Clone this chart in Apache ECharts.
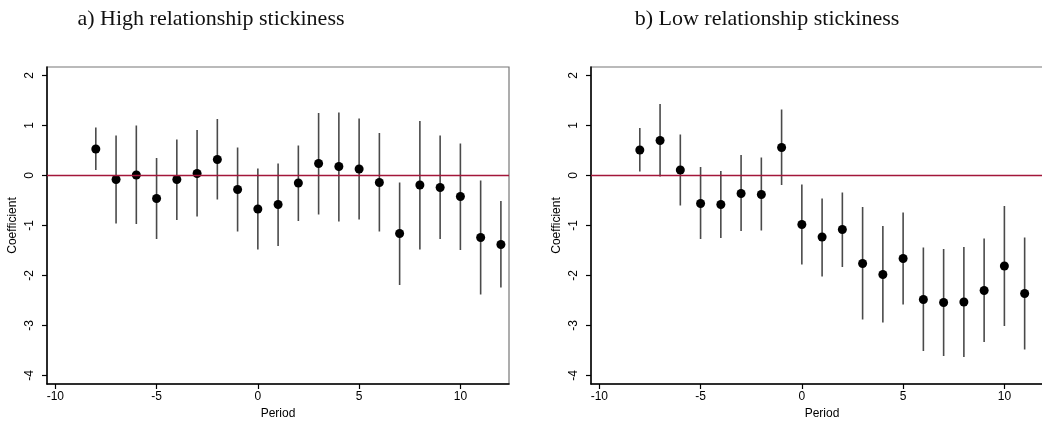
<!DOCTYPE html>
<html>
<head>
    <meta charset="utf-8">
    <title>Event study coefficients</title>
    <script src="https://cdn.jsdelivr.net/npm/echarts@6/dist/echarts.min.js"></script>
    <style>
        html, body { margin: 0; padding: 0; background: #fff; }
        #main { width: 1042px; height: 422px; }
    </style>
</head>
<body>
<div id="main"></div>
<script>
// a) High relationship stickiness
var periodsA = [-8, -7, -6, -5, -4, -3, -2, -1, 0, 1, 2, 3, 4, 5, 6, 7, 8, 9, 10, 11, 12];
var coefA  = [0.53, -0.08, 0.01, -0.46, -0.08, 0.04, 0.32, -0.28, -0.67, -0.58, -0.15, 0.24, 0.18, 0.13, -0.14, -1.16, -0.19, -0.24, -0.42, -1.24, -1.38];
var upperA = [0.96, 0.80, 1.00, 0.35, 0.72, 0.91, 1.13, 0.56, 0.14, 0.24, 0.60, 1.25, 1.26, 1.14, 0.85, -0.14, 1.09, 0.80, 0.64, -0.10, -0.51];
var lowerA = [0.11, -0.96, -0.97, -1.27, -0.89, -0.82, -0.48, -1.12, -1.48, -1.41, -0.91, -0.78, -0.92, -0.88, -1.12, -2.19, -1.48, -1.27, -1.49, -2.38, -2.24];

// b) Low relationship stickiness
var periodsB = [-8, -7, -6, -5, -4, -3, -2, -1, 0, 1, 2, 3, 4, 5, 6, 7, 8, 9, 10, 11];
var coefB  = [0.51, 0.70, 0.11, -0.56, -0.58, -0.36, -0.38, 0.56, -0.98, -1.23, -1.08, -1.76, -1.98, -1.66, -2.48, -2.54, -2.53, -2.30, -1.81, -2.36];
var upperB = [0.95, 1.43, 0.82, 0.17, 0.09, 0.41, 0.36, 1.32, -0.18, -0.46, -0.34, -0.63, -1.01, -0.74, -1.44, -1.47, -1.43, -1.26, -0.61, -1.24];
var lowerB = [0.08, -0.02, -0.60, -1.27, -1.25, -1.11, -1.10, -0.19, -1.78, -2.02, -1.83, -2.88, -2.94, -2.58, -3.51, -3.61, -3.63, -3.33, -3.01, -3.48];

var titles = ['a) High relationship stickiness', 'b) Low relationship stickiness'];
var xTicks = [-10, -5, 0, 5, 10];
var yTicks = [-4, -3, -2, -1, 0, 1, 2];

var myChart = echarts.init(document.getElementById('main'), null, { renderer: 'canvas' });

function pairs(xs, ys) {
    return xs.map(function (x, i) { return [x, ys[i]]; });
}
function bars(xs, lo, hi) {
    return xs.map(function (x, i) { return [x, lo[i], hi[i]]; });
}

function renderBar(params, api) {
    var p1 = api.coord([api.value(0), api.value(1)]);
    var p2 = api.coord([api.value(0), api.value(2)]);
    return {
        type: 'line',
        shape: { x1: p1[0], y1: p1[1], x2: p2[0], y2: p2[1] },
        style: { stroke: '#4a4a4a', lineWidth: 1.6 }
    };
}

var labelFont = { fontFamily: 'Liberation Sans', fontSize: 12, color: '#000' };

function xAxisFor(idx) {
    return {
        type: 'value', gridIndex: idx,
        min: -10.41, max: 12.4,
        name: 'Period', nameLocation: 'middle', nameGap: 20,
        nameTextStyle: labelFont,
        splitLine: { show: false },
        axisLine: { onZero: false, lineStyle: { color: '#000', width: 1.5 } },
        axisTick: { customValues: xTicks, length: 5, lineStyle: { color: '#000', width: 1.2 } },
        axisLabel: Object.assign({ customValues: xTicks, margin: 7 }, labelFont)
    };
}
function yAxisFor(idx) {
    return {
        type: 'value', gridIndex: idx,
        min: -4.17, max: 2.17,
        name: 'Coefficient', nameLocation: 'middle', nameGap: 28,
        nameTextStyle: labelFont,
        splitLine: { show: false },
        axisLine: { onZero: false, lineStyle: { color: '#000', width: 1.5 } },
        axisTick: { customValues: yTicks, length: 5, lineStyle: { color: '#000', width: 1.2 } },
        axisLabel: Object.assign({ customValues: yTicks, rotate: 90, margin: 11 }, labelFont)
    };
}

function seriesFor(idx, xs, ys, lo, hi) {
    return [{
        type: 'custom',
        xAxisIndex: idx, yAxisIndex: idx,
        renderItem: renderBar,
        encode: { x: 0, y: [1, 2] },
        data: bars(xs, lo, hi),
        silent: true, z: 2
    }, {
        type: 'scatter',
        xAxisIndex: idx, yAxisIndex: idx,
        symbolSize: 9,
        itemStyle: { color: '#000', opacity: 1 },
        data: pairs(xs, ys),
        z: 3,
        markLine: {
            silent: true, symbol: 'none',
            label: { show: false },
            lineStyle: { color: '#a3163a', type: 'solid', width: 1.3 },
            data: [{ yAxis: 0 }]
        }
    }];
}

var option = {
    backgroundColor: '#fff',
    animation: false,
    title: [{
        text: titles[0], left: 206, top: 3, textAlign: 'center',
        textStyle: { fontFamily: 'Liberation Serif', fontSize: 22, fontWeight: 'normal', color: '#111' }
    }, {
        text: titles[1], left: 762, top: 3, textAlign: 'center',
        textStyle: { fontFamily: 'Liberation Serif', fontSize: 22, fontWeight: 'normal', color: '#111' }
    }],
    grid: [
        { left: 47, top: 67, width: 462, height: 317, show: true, borderColor: '#777', borderWidth: 1.2, outerBoundsMode: 'none' },
        { left: 591, top: 67, width: 462, height: 317, show: true, borderColor: '#777', borderWidth: 1.2, outerBoundsMode: 'none' }
    ],
    xAxis: [xAxisFor(0), xAxisFor(1)],
    yAxis: [yAxisFor(0), yAxisFor(1)],
    series: seriesFor(0, periodsA, coefA, lowerA, upperA)
        .concat(seriesFor(1, periodsB, coefB, lowerB, upperB))
};
myChart.setOption(option);
</script>
</body>
</html>
